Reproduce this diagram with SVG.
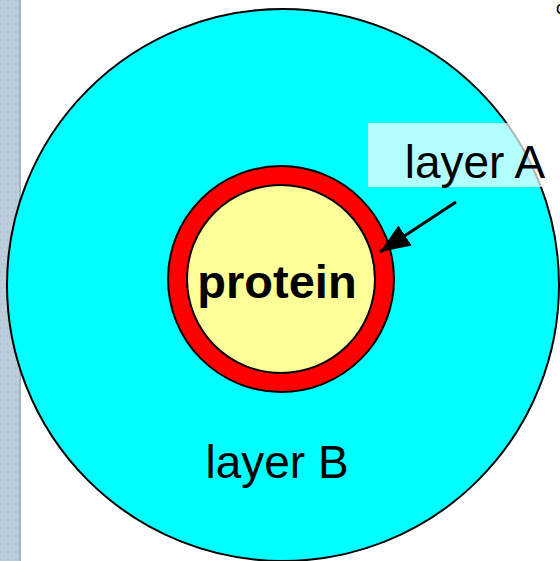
<svg xmlns="http://www.w3.org/2000/svg" width="560" height="561" viewBox="0 0 560 561">
  <style>
    .lbl { font-family: "Liberation Sans", Arial, sans-serif; font-size: 46px; fill: #000; }
    .bold { font-weight: bold; font-size: 47px; }
    .ring { stroke: #000; stroke-width: 2; }
  </style>
  <defs>
    <pattern id="tex" width="8" height="8" patternUnits="userSpaceOnUse">
      <rect width="8" height="8" fill="#b6cad8"/>
      <circle cx="4" cy="4" r="2.5" fill="none" stroke="#c4d6e2" stroke-width="1"/>
    </pattern>
    <marker id="ah" viewBox="0 0 30 24" refX="30" refY="12" markerWidth="30" markerHeight="24" markerUnits="userSpaceOnUse" orient="auto">
      <path d="M0,0 L30,12 L0,24 Z" fill="#000"/>
    </marker>
  </defs>
  <rect width="560" height="561" fill="#fff"/>
  <rect x="0" y="0" width="21" height="561" fill="url(#tex)"/>
  <rect x="19" y="0" width="2" height="561" fill="#a3b6c3"/>

  <g id="layerB">
    <circle cx="283" cy="285" r="276" fill="#00ffff" class="ring"/>
    <text class="lbl" x="277" y="478" text-anchor="middle">layer B</text>
  </g>
  <g id="layerA-ring">
    <circle cx="281" cy="279" r="113" fill="#ff0000" class="ring"/>
  </g>
  <g id="protein">
    <circle cx="281" cy="279" r="94" fill="#ffff99" class="ring"/>
    <text class="lbl bold" x="277" y="298" text-anchor="middle">protein</text>
  </g>
  <g id="layerA-label">
    <rect x="368" y="123" width="187" height="64" fill="#ffffff" fill-opacity="0.7"/>
    <text class="lbl" x="475" y="178" text-anchor="middle">layer A</text>
  </g>
  <g id="connectors">
    <line x1="456" y1="202" x2="380" y2="252" stroke="#000" stroke-width="3" marker-end="url(#ah)"/>
  </g>
  <text x="556" y="14" style="font-family: 'Liberation Sans', Arial, sans-serif; font-size: 18px;">c</text>
</svg>
